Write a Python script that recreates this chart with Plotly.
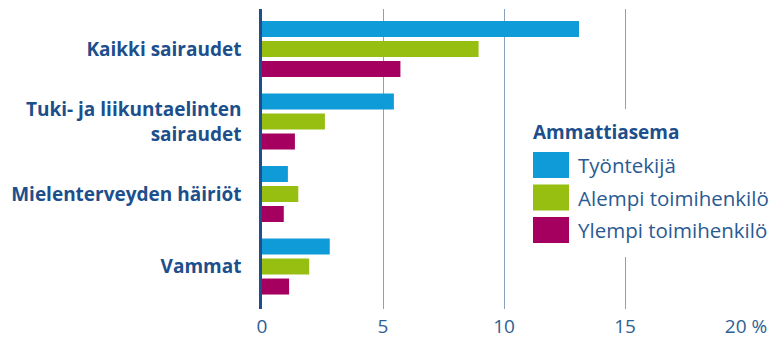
import plotly.graph_objects as go

categories = ["Kaikki sairaudet", "Tuki- ja liikuntaelinten<br>sairaudet",
              "Mielenterveyden häiriöt", "Vammat"]
series_names = ["Työntekijä", "Alempi toimihenkilö", "Ylempi toimihenkilö"]
tyontekija = [13.1, 5.45, 1.07, 2.8]
alempi = [8.95, 2.6, 1.5, 1.95]
ylempi = [5.72, 1.36, 0.9, 1.12]
values = [tyontekija, alempi, ylempi]
colors = ["#0f9bd8", "#97bf12", "#a5005f"]
x_ticks = [0, 5, 10, 15, 20]
x_ticktext = ["0", "5", "10", "15", "20 %"]
legend_title = "Ammattiasema"

W, H = 769, 340
ML, MR, MT, MB = 262, 23, 9, 31
PW, PH = W - ML - MR, H - MT - MB

def pxx(p):
    return (p - ML) / PW

def pxy(p):
    return (H - MB - p) / PH

DARK = "#1c4f8c"
FONT = "Open Sans"

fig = go.Figure()
for name, vals, col in zip(series_names, values, colors):
    fig.add_trace(go.Bar(y=categories, x=vals, name=name, orientation="h",
                         marker=dict(color=col, line=dict(width=0)),
                         showlegend=False))

shapes = []
annotations = []
# manual legend (background box, swatches, labels)
shapes.append(dict(type="rect", xref="paper", yref="paper", layer="above",
                   x0=pxx(522), x1=pxx(790), y0=pxy(109), y1=pxy(257),
                   fillcolor="white", line=dict(width=0)))
annotations.append(dict(text="<b>" + legend_title + "</b>", xref="paper", yref="paper",
                        x=pxx(531), y=pxy(132), xanchor="left", yanchor="middle",
                        showarrow=False, font=dict(family=FONT, size=19, color=DARK)))
for i, (name, col) in enumerate(zip(series_names, colors)):
    top = 152 + i * 32.5
    shapes.append(dict(type="rect", xref="paper", yref="paper", layer="above",
                       x0=pxx(533), x1=pxx(569), y0=pxy(top + 26), y1=pxy(top),
                       fillcolor=col, line=dict(width=0)))
    annotations.append(dict(text=name, xref="paper", yref="paper",
                            x=pxx(576), y=pxy(top + 13), xanchor="left", yanchor="middle",
                            showarrow=False, font=dict(family=FONT, size=20.5, color="#2a5a92")))

fig.update_layout(
    width=W, height=H,
    margin=dict(l=ML, r=MR, t=MT, b=MB, autoexpand=False),
    paper_bgcolor="white", plot_bgcolor="white",
    barmode="group", bargap=0.172, bargroupgap=0.2,
    shapes=shapes, annotations=annotations,
    showlegend=False,
    xaxis=dict(range=[0, 20], tickvals=x_ticks, ticktext=x_ticktext,
               showgrid=True, gridcolor="#8aa1bc", gridwidth=1,
               zeroline=False, showline=False, ticks="",
               ticklabelstandoff=4,
               tickfont=dict(family=FONT, size=19, color="#2f5f93")),
    yaxis=dict(range=[3.586, -0.552], showgrid=False, zeroline=False,
               showline=True, linecolor=DARK, linewidth=2.5, ticks="",
               ticklabelstandoff=14,
               tickfont=dict(family=FONT, size=19, color=DARK, weight="bold")),
)

fig.write_html("out.html")
